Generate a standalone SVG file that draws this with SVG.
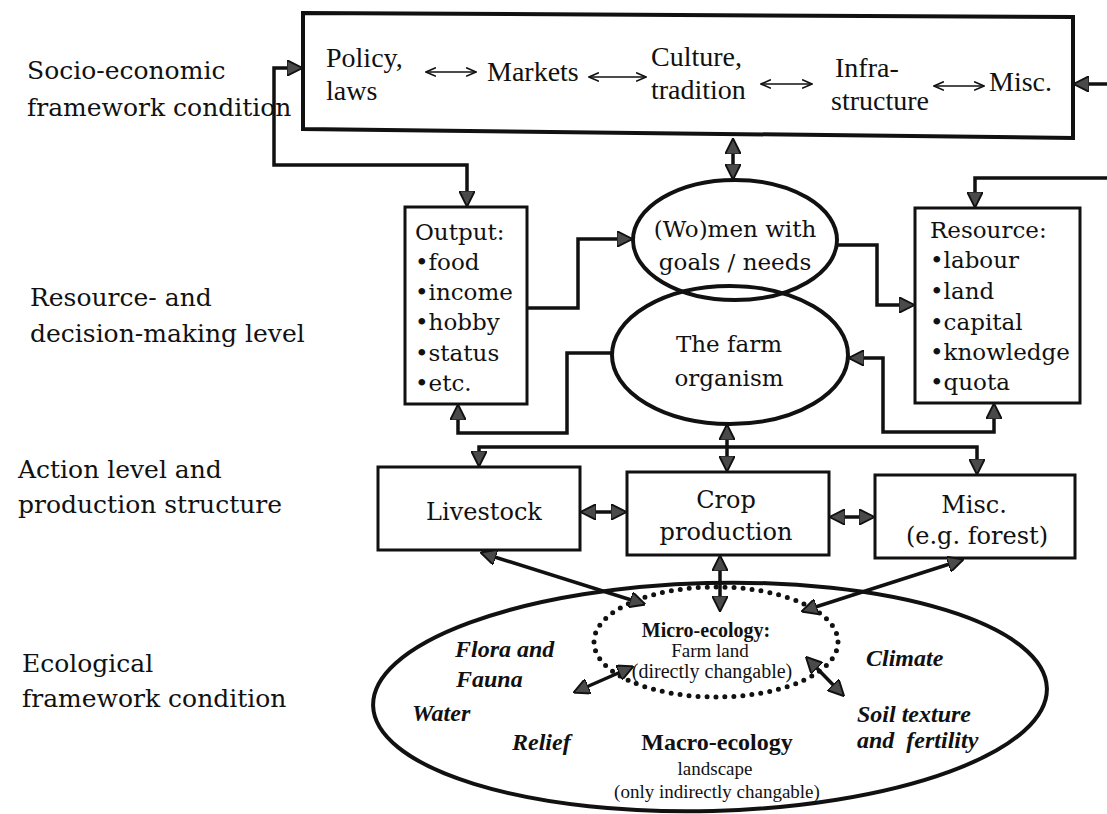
<svg xmlns="http://www.w3.org/2000/svg" width="1107" height="814" viewBox="0 0 1107 814">
<defs>
<style>
.lbl{font-family:"DejaVu Serif","Liberation Serif",serif;font-size:25px;fill:#111}
.bx{font-family:"DejaVu Serif","Liberation Serif",serif;font-size:23px;fill:#111}
.tb{font-family:"Liberation Serif","Times New Roman",serif;font-size:28px;fill:#111}
.it{font-family:"Liberation Serif","Times New Roman",serif;font-size:24px;font-style:italic;font-weight:bold;fill:#111}
.sm{font-family:"Liberation Serif","Times New Roman",serif;fill:#111;text-anchor:middle}
.box{fill:#fff;stroke:#111;stroke-width:3}
.ell{fill:none;stroke:#111;stroke-width:4}
.con{fill:none;stroke:#111;stroke-width:3.5}
.thin{fill:none;stroke:#111;stroke-width:1.6}
.mid{text-anchor:middle}
</style>
<marker id="ah" viewBox="0 0 10 10" refX="9" refY="5" markerWidth="16" markerHeight="16" markerUnits="userSpaceOnUse" orient="auto-start-reverse">
<path d="M0,0 L10,5 L0,10 z" fill="#4a4a4a" stroke="#111" stroke-width="1.2"/>
</marker>
<marker id="oh" viewBox="0 0 10 10" refX="9" refY="5" markerWidth="11" markerHeight="11" markerUnits="userSpaceOnUse" orient="auto-start-reverse">
<path d="M0,1 L9,5 L0,9" fill="none" stroke="#111" stroke-width="1.4"/>
</marker>
</defs>
<rect width="1107" height="814" fill="#fff"/>

<g id="level-labels">
<text class="lbl" x="27" y="79">Socio-economic</text>
<text class="lbl" x="27" y="116">framework condition</text>
<text class="lbl" x="30" y="306">Resource- and</text>
<text class="lbl" x="30" y="342">decision-making level</text>
<text class="lbl" x="18" y="478">Action level and</text>
<text class="lbl" x="18" y="513">production structure</text>
<text class="lbl" x="22" y="672">Ecological</text>
<text class="lbl" x="22" y="707">framework condition</text>
</g>

<g id="socio-economic">
<path class="box" d="M303,13 L1073,17 L1073,138 L303,129 Z" style="stroke-width:4"/>
<text class="tb" x="326" y="67">Policy,</text>
<text class="tb" x="326" y="100">laws</text>
<text class="tb" x="487" y="81">Markets</text>
<text class="tb" x="651" y="66">Culture,</text>
<text class="tb" x="651" y="99">tradition</text>
<text class="tb" x="835" y="77">Infra-</text>
<text class="tb" x="831" y="110">structure</text>
<text class="tb" x="989" y="91">Misc.</text>
<line class="thin" x1="426" y1="72" x2="476" y2="72" marker-start="url(#oh)" marker-end="url(#oh)"/>
<line class="thin" x1="589" y1="77" x2="646" y2="77" marker-start="url(#oh)" marker-end="url(#oh)"/>
<line class="thin" x1="761" y1="84" x2="812" y2="84" marker-start="url(#oh)" marker-end="url(#oh)"/>
<line class="thin" x1="934" y1="86" x2="984" y2="86" marker-start="url(#oh)" marker-end="url(#oh)"/>
</g>

<g id="output">
<rect class="box" x="405" y="207" width="122" height="197"/>
<text class="bx" x="415" y="240">Output:</text>
<text class="bx" x="415" y="270">•food</text>
<text class="bx" x="415" y="300">•income</text>
<text class="bx" x="415" y="330">•hobby</text>
<text class="bx" x="415" y="361">•status</text>
<text class="bx" x="415" y="391">•etc.</text>
</g>

<g id="resource">
<rect class="box" x="915" y="208" width="165" height="195"/>
<text class="bx" x="930" y="238">Resource:</text>
<text class="bx" x="930" y="268">•labour</text>
<text class="bx" x="930" y="299">•land</text>
<text class="bx" x="930" y="330">•capital</text>
<text class="bx" x="930" y="360">•knowledge</text>
<text class="bx" x="930" y="390">•quota</text>
</g>

<g id="people">
<ellipse class="ell" cx="735" cy="240" rx="102" ry="60"/>
<text class="bx mid" x="735" y="237">(Wo)men with</text>
<text class="bx mid" x="735" y="270">goals / needs</text>
</g>

<g id="farm">
<ellipse class="ell" cx="730" cy="355" rx="118" ry="69"/>
<text class="bx mid" x="729" y="352">The farm</text>
<text class="bx mid" x="729" y="386">organism</text>
</g>

<g id="livestock">
<rect class="box" x="378" y="467" width="202" height="83"/>
<text class="bx mid" x="484" y="520" style="font-size:24px">Livestock</text>
</g>

<g id="crop">
<rect class="box" x="627" y="472" width="202" height="83"/>
<text class="bx mid" x="726" y="508" style="font-size:24px">Crop</text>
<text class="bx mid" x="726" y="540" style="font-size:24px">production</text>
</g>

<g id="misc">
<rect class="box" x="875" y="475" width="200" height="83"/>
<text class="bx mid" x="974" y="513" style="font-size:24px">Misc.</text>
<text class="bx mid" x="977" y="544" style="font-size:24px">(e.g. forest)</text>
</g>

<g id="macro-ecology">
<ellipse class="ell" cx="710" cy="697" rx="337" ry="114" transform="rotate(-1.5 710 697)"/>
<text class="it" x="455" y="657">Flora and</text>
<text class="it" x="456" y="687">Fauna</text>
<text class="it" x="412" y="721">Water</text>
<text class="it" x="512" y="750">Relief</text>
<text class="it" x="866" y="666">Climate</text>
<text class="it" x="857" y="722">Soil texture</text>
<text class="it" x="857" y="748" xml:space="preserve">and  fertility</text>
<text class="sm" x="717" y="750" style="font-size:24px;font-weight:bold">Macro-ecology</text>
<text class="sm" x="715" y="775" style="font-size:19px">landscape</text>
<text class="sm" x="717" y="798" style="font-size:19px">(only indirectly changable)</text>
</g>

<g id="micro-ecology">
<ellipse cx="716" cy="642" rx="122" ry="55" fill="none" stroke="#111" stroke-width="5" stroke-linecap="round" stroke-dasharray="0 9"/>
<text class="sm" x="706" y="637" style="font-size:20px;font-weight:bold">Micro-ecology:</text>
<text class="sm" x="710" y="657" style="font-size:19px">Farm land</text>
<text class="sm" x="712" y="678" style="font-size:20px">(directly changable)</text>
</g>

<g id="connectors">
<path class="con" d="M467,205 L467,165 L274,165 L274,68 L301,68" marker-start="url(#ah)" marker-end="url(#ah)"/>
<path class="con" d="M1107,84 L1075,84" marker-end="url(#ah)"/>
<path class="con" d="M1107,178 L975,178 L975,206" marker-end="url(#ah)"/>
<path class="con" d="M733,140 L733,178" marker-start="url(#ah)" marker-end="url(#ah)"/>
<path class="con" d="M527,308 L578,308 L578,239 L631,239" marker-end="url(#ah)"/>
<path class="con" d="M837,245 L877,245 L877,305 L913,305" marker-end="url(#ah)"/>
<path class="con" d="M612,353 L567,353 L567,433 L458,433 L458,406" marker-end="url(#ah)"/>
<path class="con" d="M850,358 L883,358 L883,432 L994,432 L994,405" marker-start="url(#ah)" marker-end="url(#ah)"/>
<path class="con" d="M479,465 L479,447 L977,447 L977,473" marker-start="url(#ah)" marker-end="url(#ah)"/>
<path class="con" d="M727,426 L727,470" marker-start="url(#ah)" marker-end="url(#ah)"/>
<path class="con" d="M582,512 L625,512" marker-start="url(#ah)" marker-end="url(#ah)"/>
<path class="con" d="M831,517 L873,517" marker-start="url(#ah)" marker-end="url(#ah)"/>
<path class="con" d="M720,557 L720,610" marker-start="url(#ah)" marker-end="url(#ah)"/>
<path class="con" d="M482,553 L644,604" marker-start="url(#ah)" marker-end="url(#ah)"/>
<path class="con" d="M962,560 L803,611" marker-start="url(#ah)" marker-end="url(#ah)"/>
<path class="con" d="M575,692 L632,667" marker-start="url(#ah)" marker-end="url(#ah)"/>
<path class="con" d="M807,658 L843,695" marker-start="url(#ah)" marker-end="url(#ah)"/>
</g>
</svg>
